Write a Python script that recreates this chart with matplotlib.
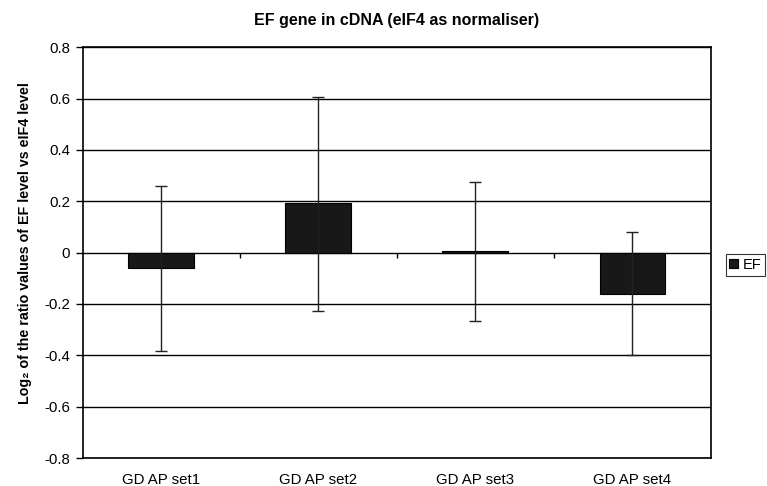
import numpy as np
import matplotlib.pyplot as plt

plt.rcParams['font.family'] = ['Liberation Sans', 'DejaVu Sans']

categories = ['GD AP set1', 'GD AP set2', 'GD AP set3', 'GD AP set4']
ef_values = [-0.062, 0.192, 0.005, -0.161]
ef_err_low = [0.321, 0.42, 0.273, 0.239]
ef_err_high = [0.321, 0.413, 0.268, 0.241]

fig = plt.figure(figsize=(7.67, 4.86), dpi=100)
ax = fig.add_axes([0.108, 0.0576, 0.819, 0.8454])

x = np.arange(len(categories))
ax.bar(x, ef_values, width=0.42, color='#181818', edgecolor='black', linewidth=0.8,
       label='EF', zorder=3)
ax.errorbar(x, ef_values, yerr=[ef_err_low, ef_err_high], fmt='none', ecolor='#222222',
            elinewidth=1.0, capsize=4, capthick=1.0, zorder=4)

ax.set_xlim(-0.5, len(categories) - 0.5)
ax.set_ylim(-0.8, 0.8)
ax.set_yticks(np.arange(-0.8, 0.81, 0.2))
ax.set_yticklabels(['-0.8', '-0.6', '-0.4', '-0.2', '0', '0.2', '0.4', '0.6', '0.8'])
ax.yaxis.grid(True, color='black', linewidth=1.0, zorder=0)
ax.set_axisbelow(True)

ax.set_xticks(x)
ax.set_xticklabels(categories)
ax.tick_params(axis='x', length=0, pad=10.5, labelsize=10.8)
ax.tick_params(axis='y', length=5, width=1, direction='out', labelsize=10.8, pad=4)

# category boundary ticks on the zero line
bounds = np.arange(len(categories) + 1) - 0.5
ax.vlines(bounds[1:-1], -0.02, 0, color='black', linewidth=1.0, zorder=2)

for s in ax.spines.values():
    s.set_color('black')
    s.set_linewidth(1.2)

ax.set_title('EF gene in cDNA (eIF4 as normaliser)', fontsize=11.5, fontweight='bold', pad=16)
ax.set_ylabel('Log\u2082 of the ratio values of EF level vs eIF4 level', fontsize=10.3,
              fontweight='bold')
ax.yaxis.set_label_coords(-0.081, 0.522)

leg = ax.legend(loc='center left', bbox_to_anchor=(0.946, 0.455), bbox_transform=fig.transFigure,
                borderaxespad=0, frameon=True, fancybox=False, edgecolor='black', fontsize=10.5,
                handlelength=0.6, handleheight=0.6, handletextpad=0.3, borderpad=0.25)
leg.get_frame().set_linewidth(0.8)

fig.savefig('out.png', dpi=100)
